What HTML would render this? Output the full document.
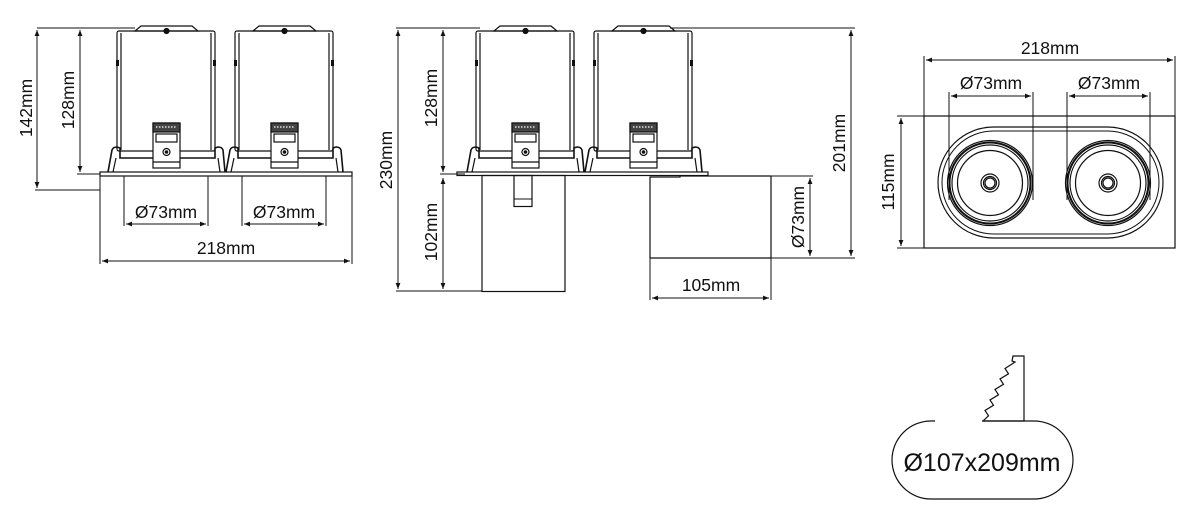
<!DOCTYPE html>
<html><head><meta charset="utf-8"><style>
html,body{margin:0;padding:0;background:#fff;}
svg{display:block;}
text{font-family:"Liberation Sans",Arial,sans-serif;font-size:17.5px;fill:#111;}
</style></head><body>
<svg width="1196" height="530" viewBox="0 0 1196 530" xmlns="http://www.w3.org/2000/svg">
<defs>
<marker id="a" viewBox="0 0 10 10" refX="10" refY="5" markerWidth="9" markerHeight="6" orient="auto-start-reverse" markerUnits="userSpaceOnUse"><path d="M0,1 L10,5 L0,9 Z" fill="#111"/></marker>
<g id="can" fill="none" stroke="#111" stroke-width="1.2">
<polygon points="18,31 24,26 75,26 81,31" fill="#fff"/>
<rect x="0" y="31" width="98" height="120" rx="2"/>
<line x1="4" y1="33" x2="4" y2="150"/>
<line x1="94" y1="33" x2="94" y2="150"/>
<circle cx="49.5" cy="31" r="2.5" fill="#111"/>
<rect x="-1" y="60" width="3" height="6" fill="#111" stroke="none"/>
<rect x="96" y="60" width="3" height="6" fill="#111" stroke="none"/>
<path d="M-9,172 L-5,150 Q-4,147 0,147 L3,148 L3,158 L98,158 L98,148 L101,147 Q105,147 106,150 L108,172" stroke-width="1.6"/>
<line x1="-4" y1="172" x2="-1" y2="158"/>
<line x1="103" y1="172" x2="101" y2="158"/>
<rect x="36" y="123" width="27" height="45" fill="#fff"/>
<rect x="36" y="123" width="27" height="9" fill="#444"/>
<line x1="39" y1="127" x2="60" y2="127" stroke="#fff" stroke-dasharray="1.5 1.5"/>
<rect x="39" y="134" width="21" height="8" fill="#fff"/>
<circle cx="49.5" cy="152" r="3.5"/>
<circle cx="49.5" cy="152" r="1.2" fill="#111"/>
<line x1="36" y1="162" x2="63" y2="162"/>
</g>
</defs>

<g stroke="#111" stroke-width="1" fill="none">
<!-- VIEW 1 -->
<use href="#can" x="117"/>
<use href="#can" x="235"/>
<rect x="100" y="172" width="252" height="4" stroke-width="1.2"/>
<line x1="37" y1="28" x2="135" y2="28"/>
<line x1="35" y1="190" x2="100" y2="190"/>
<line x1="37" y1="30" x2="37" y2="188" marker-start="url(#a)" marker-end="url(#a)"/>
<line x1="77" y1="174" x2="100" y2="174"/>
<line x1="80" y1="30" x2="80" y2="172" marker-start="url(#a)" marker-end="url(#a)"/>
<line x1="124" y1="176" x2="124" y2="226"/><line x1="208" y1="176" x2="208" y2="226"/>
<line x1="126" y1="224" x2="206" y2="224" marker-start="url(#a)" marker-end="url(#a)"/>
<line x1="242" y1="176" x2="242" y2="226"/><line x1="326" y1="176" x2="326" y2="226"/>
<line x1="244" y1="224" x2="324" y2="224" marker-start="url(#a)" marker-end="url(#a)"/>
<line x1="100" y1="176" x2="100" y2="264"/><line x1="352" y1="176" x2="352" y2="264"/>
<line x1="102" y1="261" x2="350" y2="261" marker-start="url(#a)" marker-end="url(#a)"/>

<!-- VIEW 2 -->
<use href="#can" x="476"/>
<use href="#can" x="594"/>
<rect x="457" y="172" width="251" height="3.5" stroke-width="1.2"/>
<rect x="482" y="175.5" width="83" height="116" stroke-width="1.2"/>
<rect x="514" y="175.5" width="18" height="31" stroke-width="1.2"/>
<line x1="514" y1="199" x2="532" y2="199"/>
<polyline points="650,258 650,177 680,177 680,175.5" stroke-width="1.2"/>
<line x1="650" y1="258" x2="771" y2="258" stroke-width="1.2"/>
<line x1="771" y1="176" x2="771" y2="258" stroke-width="1.2"/>
<line x1="680" y1="176" x2="771" y2="176" stroke-width="1.2"/>
<line x1="396" y1="28" x2="480" y2="28"/>
<line x1="396" y1="291" x2="482" y2="291"/>
<line x1="398" y1="30" x2="398" y2="289" marker-start="url(#a)" marker-end="url(#a)"/>
<line x1="440" y1="174" x2="465" y2="174"/>
<line x1="443" y1="30" x2="443" y2="172" marker-start="url(#a)" marker-end="url(#a)"/>
<line x1="443" y1="178" x2="443" y2="289" marker-start="url(#a)" marker-end="url(#a)"/>
<line x1="670" y1="28" x2="855" y2="28"/>
<line x1="771" y1="258" x2="855" y2="258"/>
<line x1="851" y1="30" x2="851" y2="256" marker-start="url(#a)" marker-end="url(#a)"/>
<line x1="771" y1="176" x2="813" y2="176"/>
<line x1="810" y1="178" x2="810" y2="256" marker-start="url(#a)" marker-end="url(#a)"/>
<line x1="650" y1="258" x2="650" y2="300"/><line x1="771" y1="258" x2="771" y2="300"/>
<line x1="652" y1="298" x2="769" y2="298" marker-start="url(#a)" marker-end="url(#a)"/>

<!-- VIEW 3 -->
<rect x="924" y="116" width="251" height="132" stroke-width="1.2"/>
<line x1="924" y1="56" x2="924" y2="116"/><line x1="1175" y1="56" x2="1175" y2="116"/>
<line x1="926" y1="60" x2="1173" y2="60" marker-start="url(#a)" marker-end="url(#a)"/>
<line x1="949" y1="92" x2="949" y2="200"/><line x1="1033" y1="92" x2="1033" y2="200"/>
<line x1="951" y1="96" x2="1031" y2="96" marker-start="url(#a)" marker-end="url(#a)"/>
<line x1="1067" y1="92" x2="1067" y2="200"/><line x1="1150" y1="92" x2="1150" y2="200"/>
<line x1="1069" y1="96" x2="1148" y2="96" marker-start="url(#a)" marker-end="url(#a)"/>
<line x1="897" y1="116" x2="924" y2="116"/><line x1="897" y1="248" x2="924" y2="248"/>
<line x1="901" y1="118" x2="901" y2="246" marker-start="url(#a)" marker-end="url(#a)"/>
<rect x="938" y="127" width="225" height="111" rx="55.5" stroke-width="1.2"/>
<rect x="942" y="131" width="217" height="103" rx="51.5"/>
<g stroke-width="1.2">
<circle cx="990" cy="183" r="42.5"/><circle cx="990" cy="183" r="40.5" stroke-width="2"/><circle cx="990" cy="183" r="38"/>
<circle cx="990" cy="183" r="32.5"/><circle cx="990" cy="183" r="9"/><circle cx="990" cy="183" r="6.5"/><circle cx="990" cy="183" r="5"/>
<circle cx="1108" cy="183" r="42.5"/><circle cx="1108" cy="183" r="40.5" stroke-width="2"/><circle cx="1108" cy="183" r="38"/>
<circle cx="1108" cy="183" r="32.5"/><circle cx="1108" cy="183" r="9"/><circle cx="1108" cy="183" r="6.5"/><circle cx="1108" cy="183" r="5"/>
</g>

<!-- Badge -->
<path d="M935,421 L931,421 A39,39 0 0 0 931,499 L1034,499 A39,39 0 0 0 1034,421 L982,421" stroke-width="1.2"/>
<polyline points="983,421 1024,421 1024,356 1013,356 1012,361 1015,362 1005,368.5 1008.5,373.8 1000,379 1003.5,384.3 995,389.5 998.5,394.8 990,400 993.5,405.3 985,410.5 988.5,415.8 983,421" stroke-width="1.2"/>
</g>

<g>
<text x="26" y="108" text-anchor="middle" transform="rotate(-90 26 108)" dy="6">142mm</text>
<text x="68" y="100" text-anchor="middle" transform="rotate(-90 68 100)" dy="6">128mm</text>
<text x="166" y="218" text-anchor="middle">Ø73mm</text>
<text x="284" y="218" text-anchor="middle">Ø73mm</text>
<text x="226" y="254" text-anchor="middle">218mm</text>
<text x="386" y="160" text-anchor="middle" transform="rotate(-90 386 160)" dy="6">230mm</text>
<text x="431" y="98" text-anchor="middle" transform="rotate(-90 431 98)" dy="6">128mm</text>
<text x="431" y="232" text-anchor="middle" transform="rotate(-90 431 232)" dy="6">102mm</text>
<text x="839" y="143" text-anchor="middle" transform="rotate(-90 839 143)" dy="6">201mm</text>
<text x="798" y="217" text-anchor="middle" transform="rotate(-90 798 217)" dy="6">Ø73mm</text>
<text x="711" y="291" text-anchor="middle">105mm</text>
<text x="1050" y="54" text-anchor="middle">218mm</text>
<text x="991" y="89" text-anchor="middle">Ø73mm</text>
<text x="1109" y="89" text-anchor="middle">Ø73mm</text>
<text x="888" y="182" text-anchor="middle" transform="rotate(-90 888 182)" dy="6">115mm</text>
<text x="982" y="471" text-anchor="middle" style="font-size:25px">Ø107x209mm</text>
</g>
</svg>
</body></html>
